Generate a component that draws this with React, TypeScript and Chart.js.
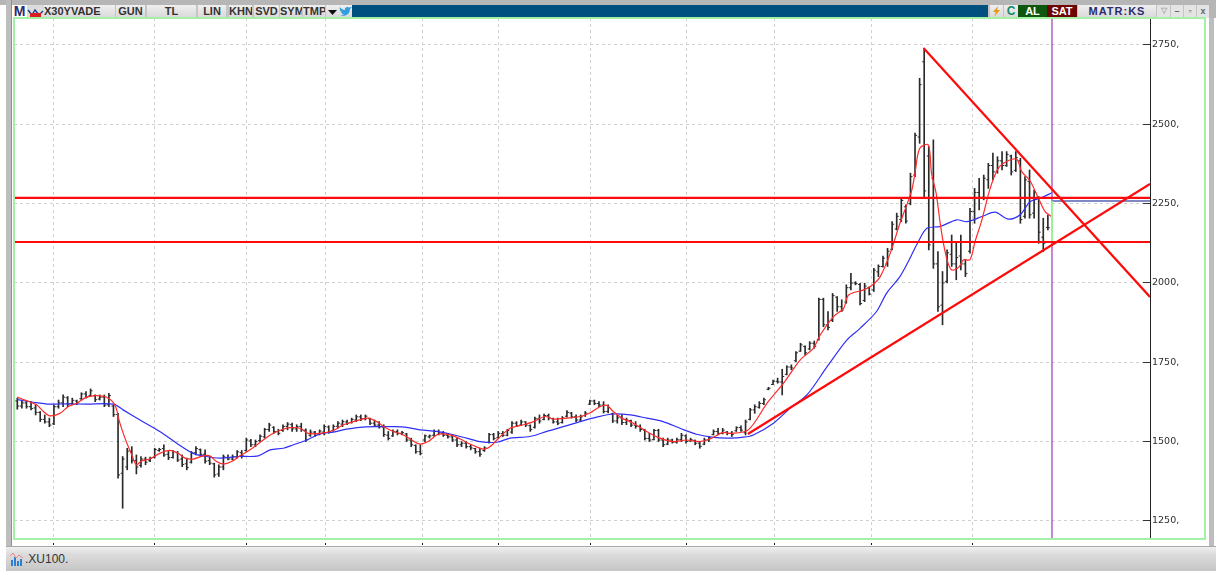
import React, { useEffect, useRef } from "react";
import { Chart, registerables } from "chart.js";

Chart.register(...registerables);

const highs = [
  1637,1631,1629,1626,1616,1595,1584,1574,1616,1631,
  1647,1642,1637,1631,1654,1658,1666,1647,1647,1647,
  1652,1616,1589,1453,1479,1484,1458,1453,1451,1451,
  1479,1479,1490,1469,1472,1469,1458,1448,1469,1484,
  1477,1474,1453,1432,1427,1458,1458,1458,1472,1472,
  1511,1507,1505,1521,1542,1558,1547,1539,1553,1560,
  1558,1553,1558,1540,1537,1532,1537,1553,1550,1553,
  1563,1568,1568,1574,1584,1584,1584,1574,1568,1563,
  1553,1532,1537,1537,1532,1526,1511,1490,1490,1521,
  1521,1537,1537,1532,1526,1521,1511,1500,1500,1490,
  1479,1479,1484,1526,1526,1532,1532,1539,1563,1563,
  1568,1563,1553,1577,1584,1587,1587,1574,1574,1579,
  1598,1592,1584,1584,1595,1631,1631,1626,1626,1616,
  1590,1584,1584,1574,1568,1563,1553,1539,1526,1539,
  1539,1511,1511,1508,1511,1526,1521,1511,1505,1500,
  1511,1516,1537,1542,1542,1532,1532,1547,1550,1568,
  1605,1616,1626,1637,1671,1694,1700,1728,1739,1742,
  1784,1810,1802,1815,1817,1952,1952,1910,1967,1957,
  1947,1994,2030,2004,1999,1999,1988,2046,2057,2085,
  2109,2193,2220,2267,2246,2346,2472,2645,2740,2430,
  2451,2099,2036,2104,2151,2130,2151,2072,2235,2298,
  2330,2340,2377,2409,2398,2414,2414,2403,2414,2393,
  2335,2356,2293,2272,2204,2214,
];
const lows = [
  1602,1605,1605,1600,1584,1563,1558,1547,1553,1605,
  1610,1610,1616,1616,1631,1637,1642,1626,1631,1610,
  1610,1579,1385,1290,1411,1432,1398,1419,1427,1437,
  1448,1469,1453,1443,1448,1437,1421,1411,1432,1458,
  1453,1432,1427,1388,1390,1411,1442,1442,1448,1448,
  1469,1484,1484,1500,1511,1532,1526,1521,1532,1537,
  1532,1532,1532,1500,1516,1516,1521,1521,1526,1532,
  1542,1547,1553,1558,1563,1566,1568,1553,1547,1542,
  1516,1505,1516,1521,1521,1500,1484,1463,1458,1500,
  1511,1516,1521,1516,1511,1500,1484,1484,1479,1474,
  1463,1453,1469,1495,1505,1511,1516,1518,1526,1547,
  1550,1547,1532,1542,1558,1568,1568,1558,1553,1558,
  1577,1574,1563,1563,1579,1616,1616,1610,1590,1590,
  1560,1558,1553,1553,1547,1542,1532,1505,1500,1505,
  1500,1484,1490,1495,1495,1500,1495,1500,1490,1479,
  1490,1500,1521,1521,1524,1521,1516,1532,1532,1521,
  1568,1589,1605,1616,1663,1679,1684,1647,1710,1726,
  1752,1784,1773,1789,1794,1820,1862,1852,1878,1910,
  1910,1936,1978,1994,1931,1941,1962,1973,2020,2050,
  2052,2104,2167,2193,2188,2246,2335,2440,2267,2104,
  2046,1910,1868,2000,2052,2010,2041,2020,2094,2188,
  2230,2262,2298,2325,2346,2356,2367,2340,2351,2188,
  2204,2204,2204,2125,2099,2167,
];
const opens = [
  1628,1612,1622,1610,1606,1592,1570,1562,1556,1610,
  1622,1638,1620,1628,1635,1650,1645,1645,1634,1640,
  1616,1612,1585,1400,1420,1470,1440,1425,1445,1440,
  1450,1472,1478,1460,1450,1465,1445,1430,1435,1465,
  1475,1460,1440,1430,1398,1420,1450,1445,1452,1465,
  1472,1502,1490,1503,1515,1538,1545,1532,1535,1548,
  1553,1540,1548,1536,1520,1530,1522,1530,1546,1535,
  1548,1555,1562,1560,1568,1578,1572,1572,1558,1552,
  1546,1520,1518,1532,1526,1524,1505,1488,1468,1505,
  1515,1520,1532,1526,1520,1515,1505,1490,1495,1484,
  1478,1468,1472,1498,1522,1512,1525,1520,1530,1558,
  1552,1562,1550,1545,1572,1570,1582,1572,1562,1560,
  1580,1590,1578,1568,1582,1618,1628,1620,1615,1595,
  1588,1565,1575,1560,1566,1552,1548,1536,1510,1506,
  1535,1505,1492,1505,1498,1506,1518,1502,1504,1495,
  1492,1505,1522,1532,1526,1530,1526,1534,1544,1528,
  1570,1600,1608,1620,1665,1680,1690,1688,1712,1735,
  1755,1785,1800,1792,1810,1822,1948,1868,1882,1955,
  1925,1940,1985,2000,1995,1945,1985,1978,2035,2052,
  2060,2106,2170,2200,2240,2250,2340,2460,2697,2400,
  2330,2060,1930,2005,2090,2060,2085,2060,2100,2225,
  2285,2270,2325,2370,2352,2385,2370,2400,2355,2385,
  2210,2320,2220,2270,2144,2175,
];
const closes = [
  1612,1622,1610,1604,1592,1570,1562,1552,1610,1622,
  1640,1618,1630,1622,1650,1640,1660,1632,1640,1615,
  1645,1585,1395,1445,1470,1440,1420,1445,1435,1447,
  1475,1475,1458,1450,1468,1442,1428,1418,1465,1478,
  1460,1438,1432,1395,1420,1452,1445,1452,1468,1455,
  1505,1490,1500,1517,1538,1552,1532,1526,1548,1555,
  1540,1547,1538,1505,1530,1520,1533,1548,1532,1548,
  1558,1563,1557,1570,1578,1572,1580,1558,1552,1546,
  1522,1510,1532,1526,1528,1505,1490,1468,1462,1518,
  1518,1532,1527,1520,1515,1505,1490,1495,1484,1480,
  1468,1460,1480,1522,1510,1526,1520,1535,1558,1550,
  1562,1552,1538,1572,1565,1582,1575,1562,1558,1574,
  1592,1578,1568,1578,1590,1628,1620,1615,1595,1608,
  1565,1575,1560,1568,1552,1548,1538,1510,1505,1535,
  1505,1490,1505,1498,1506,1520,1500,1506,1495,1485,
  1505,1512,1532,1526,1536,1526,1522,1544,1536,1562,
  1600,1610,1620,1632,1668,1690,1688,1705,1735,1732,
  1780,1805,1780,1810,1800,1948,1868,1860,1960,1925,
  1915,1985,2000,1998,1935,1990,1965,2040,2052,2078,
  2100,2185,2210,2260,2195,2335,2465,2625,2290,2120,
  2060,1925,2000,2095,2060,2080,2060,2030,2225,2285,
  2270,2330,2370,2350,2385,2370,2405,2350,2395,2200,
  2325,2215,2285,2160,2125,2174,
];

const fastMaIndex = [
  0,2,4.2,5.7,7.1,9.3,11.1,13,15.1,17.3,19.5,21.3,22.3,23.5,25,26,27.1,29,31.1,33.3,
  35.1,36.6,38.4,40.6,42,43.5,45,46.8,48.6,50.8,53.7,55.9,58,59.5,61.7,63.5,66.1,69,71.2,74.1,
  76.6,78.5,80,82.1,84.3,86.1,87.9,89.7,91.9,94.5,96.7,99.2,101.8,103.2,105.4,107.6,110.5,112.7,115.2,117,
  119.9,122.9,125,127.2,128.7,130.1,132,134.5,137.4,140.3,143.2,146.1,149,151.2,154.1,155.6,159.6,163.7,167.3,170.9,
  173.8,175.3,178.2,180.4,181.5,184.8,186.5,188.4,190.6,192.7,194.2,195.3,196,197,198.9,199.6,200.6,201.5,202.2,203.1,
  204,205.5,206.6,208,209.1,210.6,212.4,214.2,216,218.2,219.3,221.1,223.1,224.4,225.8,
];
const fastMaValues = [
  1640,1629,1616,1595,1581,1589,1610,1621,1640,1645,1640,1616,1563,1511,1458,1427,1439,1446,1463,1472,
  1463,1448,1445,1455,1455,1437,1429,1437,1455,1474,1505,1526,1539,1544,1542,1526,1526,1535,1553,1566,
  1574,1563,1547,1532,1521,1505,1492,1500,1523,1521,1508,1490,1476,1484,1515,1542,1553,1563,1579,1571,
  1574,1579,1590,1610,1614,1595,1574,1558,1532,1511,1500,1505,1500,1508,1529,1526,1537,1621,1684,1757,
  1794,1836,1894,1920,1962,1978,1991,2020,2094,2188,2246,2293,2346,2424,2435,2346,2283,2188,2125,2067,
  2041,2049,2073,2073,2130,2199,2298,2362,2383,2390,2351,2322,2262,2225,2209,
];
const slowMaIndex = [
  0,3.5,7.1,10.8,15.1,21,23.1,26.8,31.1,34.8,38.4,41.3,44.2,48.6,52.6,55.2,58.1,60.3,63.2,66.1,
  69,71.9,74.8,78.5,82.1,85,87.9,91.6,94.5,98.1,101,104.7,107.6,111.9,115.6,119.2,122.9,126.5,130.1,133.8,
  137.4,141,144.7,148.3,152,155.6,158.6,160.7,165.1,168.7,172.4,176.8,181.1,184,187.6,189.8,192.7,194.9,196.7,198.6,
  201.5,205.1,207.3,210.9,213.5,216.4,218.9,221.1,223.3,226,
];
const slowMaValues = [
  1632,1624,1618,1619,1618,1618,1600,1568,1532,1495,1463,1453,1448,1453,1455,1474,1479,1490,1505,1524,
  1530,1539,1545,1547,1547,1545,1537,1532,1524,1511,1500,1498,1511,1516,1532,1547,1563,1577,1587,1584,
  1574,1563,1542,1523,1513,1511,1514,1521,1558,1605,1647,1736,1820,1857,1910,1968,2020,2078,2130,2172,
  2178,2199,2193,2211,2223,2201,2214,2256,2267,2285,
];

const resistanceLevel = 2268;
const supportLevel = 2129;
const fallingTrendIndex = [197.9, 247.3];
const fallingTrendValues = [2740, 1956];
const risingTrendIndex = [159.5, 247.3];
const risingTrendValues = [1524, 2312];
const cursorIndex = 225.9;
const signalLevel = 2258;

const yTicks = [1250, 1500, 1750, 2000, 2250, 2500, 2750];
const xGridTicks = [7.8, 29.85, 50, 67.3, 88.4, 105, 125.1, 146.2, 165.3, 186.5, 208.6];
const xMin = -0.72;
const xMax = 247.3;
const yMin = 1193;
const yMax = 2835;

const toolbarLeft = [
  { text: "X30YVADE", left: 44, width: 71 },
  { text: "GUN", left: 116, width: 29 },
  { text: "TL", left: 147, width: 49 },
  { text: "LIN", left: 198, width: 28 },
  { text: "KHN", left: 229, width: 23 },
  { text: "SVD", left: 254, width: 25 },
  { text: "SYM", left: 280, width: 22 },
  { text: "TMP", left: 303, width: 22 },
];

const pts = (xs: number[], ys: number[]) => xs.map((x, i) => ({ x, y: ys[i] }));

const abs = (left: number, top: number, width: number, height: number, extra: React.CSSProperties = {}): React.CSSProperties => ({
  position: "absolute", left, top, width, height, boxSizing: "border-box", ...extra,
});

export default function App() {
  const ref = useRef<HTMLCanvasElement>(null);
  useEffect(() => {
    const ohlcX = highs.map((_, i) => i);
    const chart = new Chart(ref.current!, {
      type: "bar",
      data: {
        datasets: [
          {
            type: "bar",
            data: ohlcX.map((x) => ({ x, y: [lows[x], highs[x]] })) as any,
            backgroundColor: "#2a2a2a",
            barThickness: 1,
            grouped: false,
            order: 9,
          },
          {
            type: "line",
            data: pts(ohlcX, opens),
            showLine: false,
            pointStyle: "dash",
            pointRotation: 180,
            pointRadius: 2,
            pointBorderColor: "#2a2a2a",
            pointBorderWidth: 1,
            order: 8,
          },
          {
            type: "line",
            data: pts(ohlcX, closes),
            showLine: false,
            pointStyle: "dash",
            pointRadius: 2,
            pointBorderColor: "#2a2a2a",
            pointBorderWidth: 1,
            order: 8,
          },
          {
            type: "line",
            data: pts(slowMaIndex, slowMaValues),
            borderColor: "#2f2ff5",
            borderWidth: 1.2,
            pointRadius: 0,
            tension: 0.3,
            order: 6,
          },
          {
            type: "line",
            data: pts(fastMaIndex, fastMaValues),
            borderColor: "#ff2a2a",
            borderWidth: 1.2,
            pointRadius: 0,
            tension: 0.3,
            order: 5,
          },
          {
            type: "line",
            data: pts([cursorIndex, xMax], [signalLevel, signalLevel]),
            borderColor: "#8088c8",
            borderWidth: 2,
            pointRadius: 0,
            order: 4,
          },
          {
            type: "line",
            data: pts([cursorIndex, cursorIndex], [yMin, yMax]),
            borderColor: "#b060c4",
            borderWidth: 1.5,
            pointRadius: 0,
            order: 4,
          },
          {
            type: "line",
            data: pts([cursorIndex, cursorIndex], [supportLevel, signalLevel]),
            borderColor: "#9cf09c",
            borderWidth: 2,
            pointRadius: 0,
            order: 3,
          },
          ...[
            pts([xMin, xMax], [resistanceLevel, resistanceLevel]),
            pts([xMin, xMax], [supportLevel, supportLevel]),
            pts(fallingTrendIndex, fallingTrendValues),
            pts(risingTrendIndex, risingTrendValues),
          ].map((data) => ({
            type: "line" as const,
            data,
            borderColor: "#ff0a0a",
            borderWidth: 2.2,
            pointRadius: 0,
            order: 1,
          })),
        ],
      },
      options: {
        animation: false,
        responsive: false,
        events: [],
        layout: { padding: { left: 14, top: 18, right: 0, bottom: 27 } },
        plugins: { legend: { display: false }, tooltip: { enabled: false } },
        scales: {
          x: {
            type: "linear",
            min: xMin,
            max: xMax,
            offset: false,
            afterBuildTicks: (axis: any) => {
              axis.ticks = xGridTicks.map((value) => ({ value }));
            },
            afterFit: (axis: any) => {
              axis.height = 6;
            },
            border: { display: true, color: "rgba(0,0,0,0)", dash: [3, 3] },
            grid: {
              offset: false,
              color: "#d0d0d0",
              tickColor: "#111",
              tickLength: 6,
              tickBorderDash: [],
              lineWidth: 1,
            } as any,
            ticks: { display: false },
          },
          y: {
            type: "linear",
            position: "right",
            min: yMin,
            max: yMax,
            afterBuildTicks: (axis: any) => {
              axis.ticks = yTicks.map((value) => ({ value }));
            },
            afterFit: (axis: any) => {
              axis.width = 66;
            },
            border: { display: true, color: "#222", width: 1, dash: [3, 3] },
            grid: {
              color: "#d0d0d0",
              tickColor: "#333",
              tickLength: -7,
              tickBorderDash: [],
              lineWidth: 1,
            } as any,
            ticks: {
              padding: 9,
              color: "#2e2e2e",
              font: { family: "'DejaVu Sans'", size: 9.5 },
              callback: (v: any) => `${v},`,
            },
          },
        },
      },
    } as any);
    return () => chart.destroy();
  }, []);

  const btn: React.CSSProperties = {
    background: "linear-gradient(#efefef,#d8d8d8)",
    color: "#333",
    font: "bold 11px 'Liberation Sans'",
    lineHeight: "12px",
    textAlign: "center",
  };

  return (
    <div style={abs(0, 0, 1216, 572, { background: "#fff", overflow: "hidden" })}>
      <div style={abs(0, 0, 1216, 5, { background: "#b6b6b6" })} />
      <div style={abs(6, 0, 6, 548, { background: "#bdbdbd", borderRight: "1px solid #8f8f8f" })} />
      <div style={abs(1206, 0, 10, 18, { background: "#b6b6b6" })} />
      <div style={abs(1209, 18, 5, 528, { background: "#bdbdbd" })} />

      <div style={abs(12, 5, 1194, 13, { background: "#00507f" })} />
      <div style={abs(27, 5, 325, 13, { background: "#c4c4c4" })} />
      <div style={abs(988, 5, 218, 13, { background: "#c4c4c4" })} />
      <div style={abs(12, 5, 15, 13, { background: "#fff", color: "#2b2b6e", font: "bold 14px 'Liberation Sans'", lineHeight: "13px", textAlign: "center" })}>M</div>
      <div style={abs(27, 5, 17, 13, { background: "#dcdcdc" })}>
        <svg width="17" height="13">
          <polyline points="1,4 5,9 8,4 12,9 16,5" fill="none" stroke="#1a3a8a" strokeWidth="1.4" />
          <rect x="3" y="7" width="11" height="4" fill="#d81e1e" />
        </svg>
      </div>
      {toolbarLeft.map((b) => (
        <div key={b.text} style={{ ...abs(b.left, 5, b.width, 13), ...btn, textAlign: b.text === "X30YVADE" ? "left" : "center", whiteSpace: "nowrap", overflow: "hidden" }}>
          {b.text}
        </div>
      ))}
      <div style={{ ...abs(326, 5, 13, 13), ...btn }}>
        <svg width="13" height="13"><polygon points="2,5 11,5 6.5,10" fill="#111" /></svg>
      </div>
      <div style={{ ...abs(339, 5, 13, 13), ...btn }}>
        <svg width="13" height="13"><path d="M1,10 C5,12 11,10 11,4 L13,2 L10,2.5 C8,1 5,3 6,5 C4,5 2,4 1,2 C0,5 2,7 3,7 L2,7 C3,9 4,9 5,9 C4,10 2,10 1,10 Z" fill="#2f9fe0" /></svg>
      </div>

      <div style={{ ...abs(990, 5, 13, 13), ...btn }}>
        <svg width="13" height="13"><polygon points="8,1 3,7 6,7 4,12 10,5 7,5" fill="#e69a10" /></svg>
      </div>
      <div style={{ ...abs(1004, 5, 14, 13), ...btn, color: "#0f8a6a", fontSize: 12 }}>C</div>
      <div style={{ ...abs(1018, 5, 29, 13), ...btn, background: "#0d560d", color: "#fff" }}>AL</div>
      <div style={{ ...abs(1047, 5, 30, 13), ...btn, background: "#6e0505", color: "#fff" }}>SAT</div>
      <div style={{ ...abs(1078, 5, 78, 13), ...btn, color: "#2b2b70", letterSpacing: 1 }}>MATR:KS</div>
      <div style={{ ...abs(1157, 5, 13, 13), ...btn, color: "#aaa", background: "#e4e4e4", fontSize: 8 }}>▽</div>
      <div style={{ ...abs(1171, 5, 12, 13), ...btn, color: "#666", background: "#e4e4e4", fontSize: 9 }}>–</div>
      <div style={{ ...abs(1184, 5, 12, 13), ...btn, color: "#666", background: "#e4e4e4", fontSize: 9 }}>▫</div>
      <div style={{ ...abs(1197, 5, 12, 13), ...btn, color: "#666", background: "#e4e4e4", fontSize: 9 }}>x</div>

      <canvas ref={ref} width={1216} height={572} style={{ position: "absolute", left: 0, top: 0 }} />

      <div style={abs(13, 540, 1193, 3, { background: "#fff" })} />
      <div style={abs(13, 17, 1193, 523, { border: "2px solid #a4f0a4" })} />

      <div style={abs(6, 546, 1210, 25, { background: "linear-gradient(#f0f0f0,#dcdcdc 30%,#c6c6c6)", borderTop: "1px solid #a8a8a8" })} />
      <div style={abs(10, 552, 15, 15)}>
        <svg width="15" height="15">
          <rect x="1" y="8" width="2" height="6" fill="#2a7fd0" />
          <rect x="4" y="5" width="2" height="9" fill="#2a7fd0" />
          <rect x="7" y="9" width="2" height="5" fill="#2a7fd0" />
          <rect x="10" y="7" width="2" height="7" fill="#2a7fd0" />
          <polyline points="0,4 3,1 6,6 9,3 13,6" fill="none" stroke="#e88" strokeWidth="1" />
        </svg>
      </div>
      <div style={abs(25, 552, 60, 14, { font: "12px 'Liberation Sans'", color: "#333", lineHeight: "14px" })}>.XU100.</div>
    </div>
  );
}
